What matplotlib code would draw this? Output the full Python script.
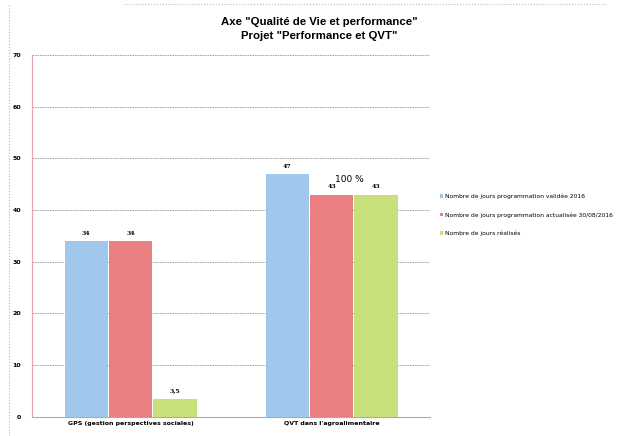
import matplotlib.pyplot as plt
import numpy as np

categories = ["GPS (gestion perspectives sociales)", "QVT dans l'agroalimentaire"]
series_names = ["Nombre de jours programmation validée 2016",
                "Nombre de jours programmation actualisée 30/08/2016",
                "Nombre de jours réalisés"]
validee = [34, 47]
actualisee = [34, 43]
realises = [3.5, 43]
value_labels = [["34", "47"], ["34", "43"], ["3,5", "43"]]
colors = ["#9fc8ec", "#ea7f82", "#c8e07c"]

fig = plt.figure(figsize=(6.18, 4.36), dpi=100)
ax = fig.add_axes([0.052, 0.044, 0.644, 0.830])

x = np.arange(len(categories))
w = 0.22
for i, (vals, col) in enumerate(zip([validee, actualisee, realises], colors)):
    bars = ax.bar(x + (i - 1) * w, vals, w * 0.98, color=col, label=series_names[i], zorder=3)
    for b, lab in zip(bars, value_labels[i]):
        ax.text(b.get_x() + b.get_width() / 2, b.get_height() + 1.0, lab,
                ha="center", va="bottom", fontsize=4.5, fontweight="bold",
                family="DejaVu Serif")

ax.text(1.09, 46.0, "100 %", ha="center", va="center", fontsize=6.5)

ax.set_xlim(-0.49, 1.49)
ax.set_ylim(0, 70)
ax.set_yticks(range(0, 71, 10))
ax.set_xticks(x)
ax.set_xticklabels(categories, fontsize=4.5, fontweight="bold")
ax.tick_params(axis="y", labelsize=4.5, length=0, pad=8)
ax.tick_params(axis="x", length=0, pad=3)
for t in ax.get_yticklabels():
    t.set_fontweight("bold")
ax.grid(axis="y", linestyle=(0, (2, 1)), color="#999999", linewidth=0.6, zorder=0)
for s in ["top", "right"]:
    ax.spines[s].set_visible(False)
ax.spines["left"].set_color("#e6a0a8")
ax.spines["left"].set_linewidth(0.8)
ax.spines["bottom"].set_color("#aaaaaa")
ax.spines["bottom"].set_linestyle((0, (2, 1)))

fig.text(0.516, 0.933, 'Axe "Qualité de Vie et performance"\nProjet "Performance et QVT"',
         ha="center", va="center", fontsize=8.2, fontweight="bold",
         family="Liberation Sans", linespacing=1.45)

fig.legend(loc="center left", bbox_to_anchor=(0.703, 0.507), fontsize=4.3,
           frameon=False, handlelength=0.6, handleheight=0.6, handletextpad=0.3,
           labelspacing=2.2)

# outer dotted frame lines
fig.add_artist(plt.Line2D([0.015, 0.015], [0.0, 0.99], color="#e6a0a8",
                          linestyle=":", linewidth=0.8))
fig.add_artist(plt.Line2D([0.2, 0.98], [0.99, 0.99], color="#bbbbbb",
                          linestyle=":", linewidth=0.8))

fig.savefig("out.png", dpi=100)
